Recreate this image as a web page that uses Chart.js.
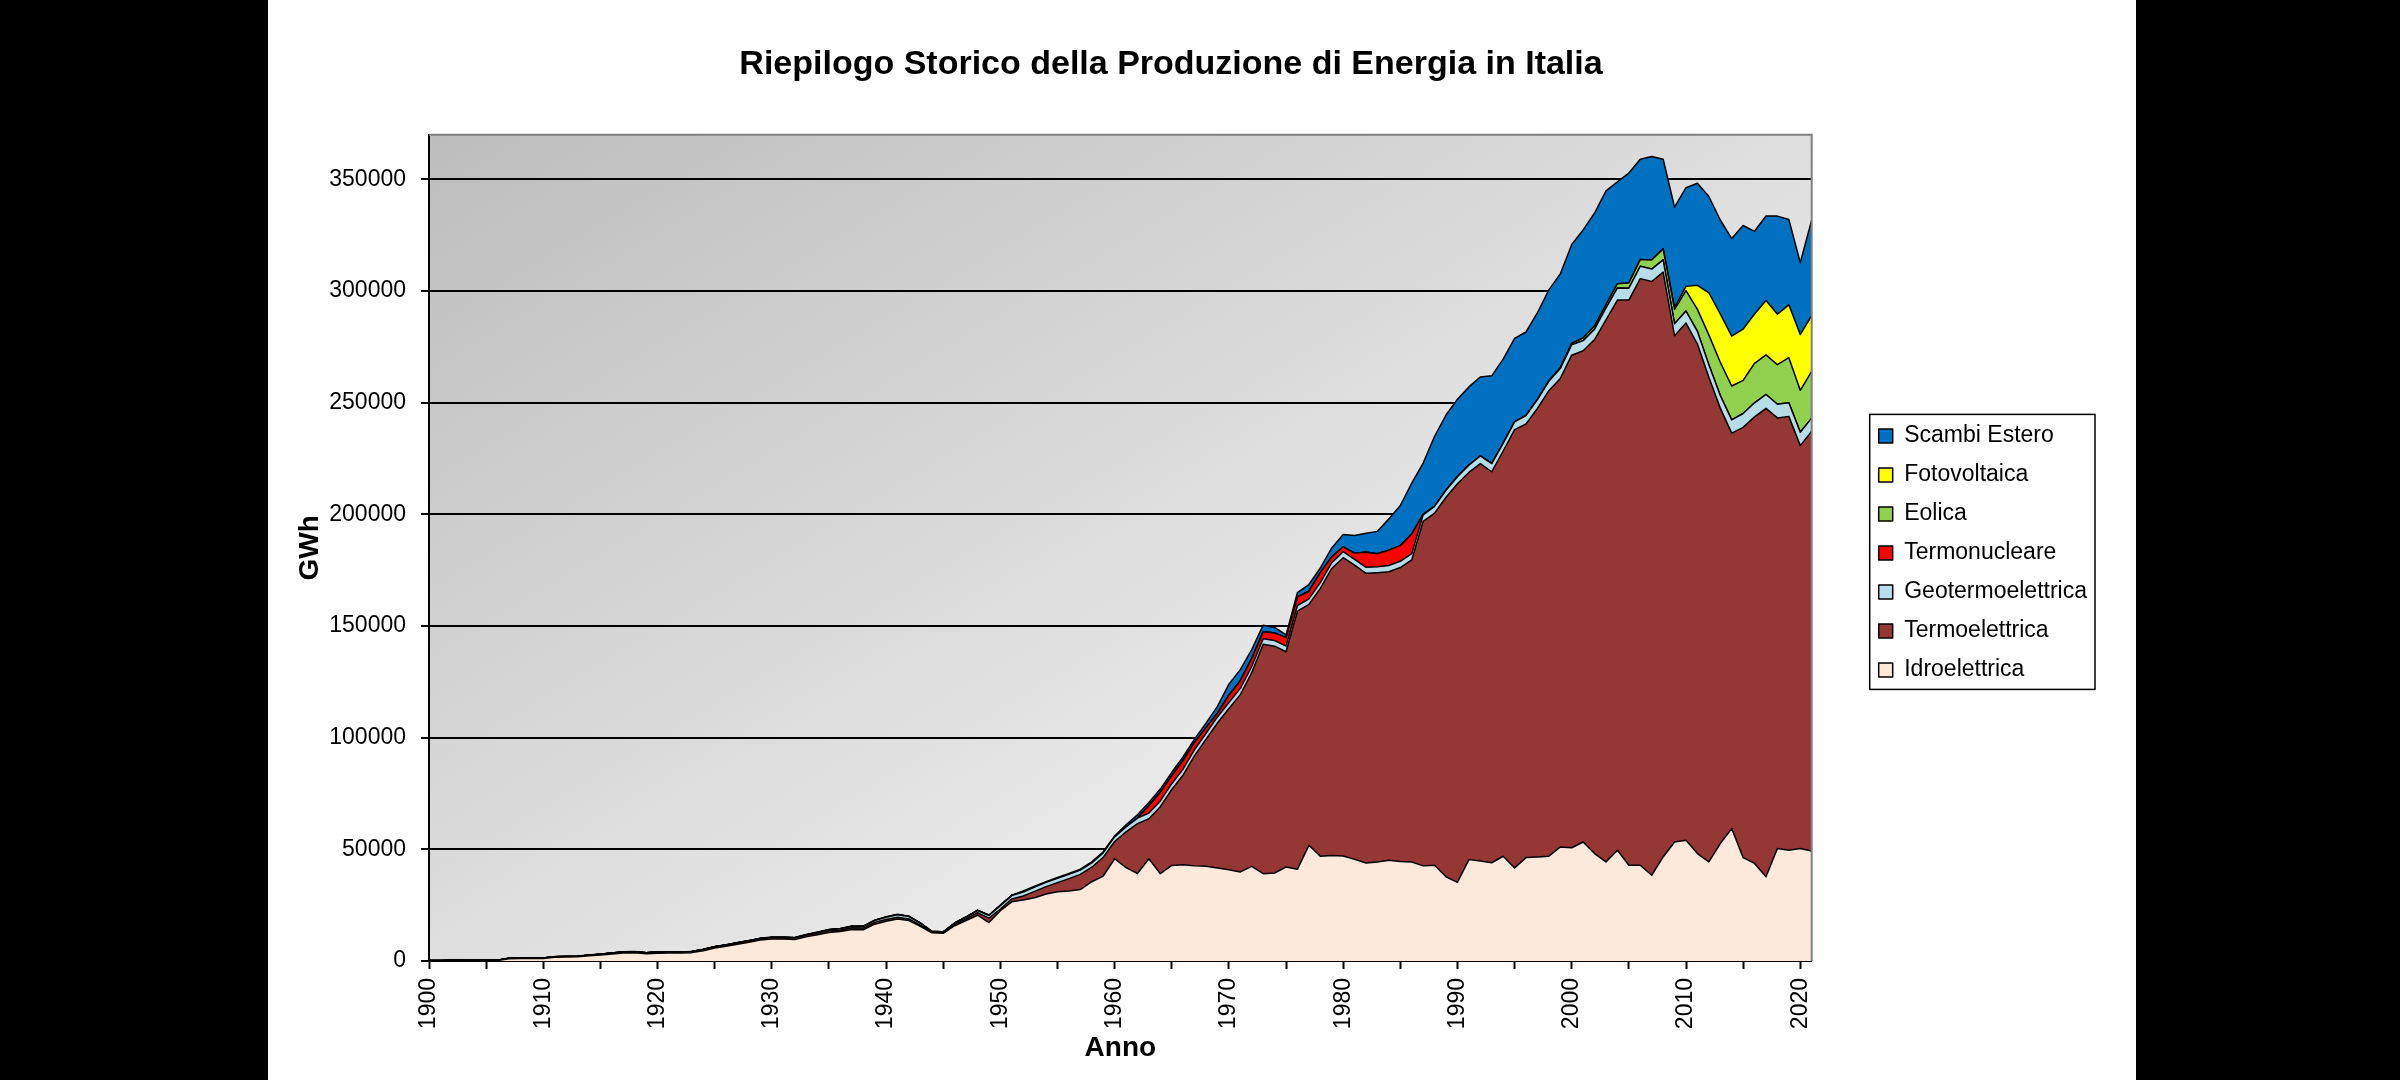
<!DOCTYPE html>
<html lang="it">
<head>
  <meta charset="UTF-8">
  <title>Riepilogo Storico della Produzione di Energia in Italia</title>
  <script src="https://cdn.jsdelivr.net/npm/chart.js"></script>
  <style>
    html, body { margin: 0; padding: 0; background: #000; }
    body { width: 2400px; height: 1080px; overflow: hidden; position: relative; }
    .foglio { position: absolute; left: 268px; top: 0; width: 1868px; height: 1080px; background: #fff; }
    .container { position: absolute; left: 245px; top: 0; width: 1891px; height: 1080px; }
  </style>
</head>
<body>
  <div class="foglio"></div>
  <div class="container">
    <canvas id="myChart"></canvas>
  </div>
  <script>
    // anni (categorie)
    const anni = [
      1900, 1901, 1902, 1903, 1904, 1905, 1906, 1907, 1908, 1909,
      1910, 1911, 1912, 1913, 1914, 1915, 1916, 1917, 1918, 1919,
      1920, 1921, 1922, 1923, 1924, 1925, 1926, 1927, 1928, 1929,
      1930, 1931, 1932, 1933, 1934, 1935, 1936, 1937, 1938, 1939,
      1940, 1941, 1942, 1943, 1944, 1945, 1946, 1947, 1948, 1949,
      1950, 1951, 1952, 1953, 1954, 1955, 1956, 1957, 1958, 1959,
      1960, 1961, 1962, 1963, 1964, 1965, 1966, 1967, 1968, 1969,
      1970, 1971, 1972, 1973, 1974, 1975, 1976, 1977, 1978, 1979,
      1980, 1981, 1982, 1983, 1984, 1985, 1986, 1987, 1988, 1989,
      1990, 1991, 1992, 1993, 1994, 1995, 1996, 1997, 1998, 1999,
      2000, 2001, 2002, 2003, 2004, 2005, 2006, 2007, 2008, 2009,
      2010, 2011, 2012, 2013, 2014, 2015, 2016, 2017, 2018, 2019,
      2020, 2021
    ];

    // tacche asse GWh
    const tickGWh = [0, 50000, 100000, 150000, 200000, 250000, 300000, 350000];

    // GWh
    const idroelettrica = [
      150, 160, 170, 180, 190, 200, 210, 1050, 1080, 1100,
      1120, 1700, 1800, 1900, 2300, 2700, 3100, 3550, 3650, 3250,
      3500, 3550, 3600, 3750, 4600, 5800, 6600, 7550, 8350, 9400,
      9800, 9800, 9650, 10800, 11800, 12800, 13200, 14100, 14000, 16500,
      17800, 18800, 18100, 15500, 12600, 12400, 15800, 18100, 20500, 17200,
      22500, 26500, 27300, 28300, 30000, 31000, 31400, 32000, 35500, 38000,
      45800, 41800, 39200, 45800, 39100, 42800, 43100, 42600, 42400, 41700,
      40900, 39900, 42400, 39100, 39400, 42100, 41100, 51800, 46900, 47300,
      47000, 45500, 43900, 44300, 45100, 44600, 44300, 42600, 42900, 37700,
      35200, 45400, 44800, 44000, 46900, 41700, 46300, 46600, 46900, 51100,
      50700, 53300, 48100, 44400, 49600, 42900, 42900, 38400, 46600, 53300,
      54100, 48100, 44400, 52600, 59300, 46300, 43700, 37700, 50400, 49600,
      50400, 49300
    ];

    const termoelettrica = [
      100, 100, 110, 110, 120, 120, 130, 200, 200, 200,
      200, 250, 250, 250, 300, 350, 400, 450, 450, 400,
      450, 450, 450, 450, 500, 500, 550, 550, 600, 600,
      650, 650, 650, 700, 700, 750, 700, 750, 750, 800,
      800, 800, 700, 600, 500, 400, 600, 700, 1100, 2000,
      800, 1300, 1800, 2900, 3300, 4100, 5500, 6800, 6500, 8400,
      7700, 16000, 22300, 17900, 30000, 34000, 40200, 49400, 56900, 64900,
      72200, 79400, 86800, 102700, 101600, 96400, 115600, 107900, 120000, 128500,
      133600, 131800, 129700, 129600, 129200, 131600, 135300, 154300, 157700, 170000,
      178500, 173400, 177900, 175100, 181500, 196300, 194200, 200900, 208500, 209800,
      220600, 220000, 230200, 242700, 246400, 253100, 262700, 265900, 261900, 226700,
      231600, 228200, 217000, 195000, 177100, 192700, 200000, 209800, 192800, 194300,
      180400, 187900
    ];

    const geotermoelettrica = [
      0, 0, 0, 0, 0, 0, 0, 0, 0, 0,
      0, 0, 0, 10, 20, 30, 40, 50, 50, 50,
      50, 50, 50, 50, 60, 60, 70, 70, 80, 80,
      100, 100, 120, 200, 300, 400, 500, 600, 700, 800,
      1000, 1100, 1100, 800, 100, 100, 500, 800, 1000, 1200,
      1500, 1500, 1800, 1900, 1900, 1900, 1900, 1900, 1900, 2000,
      2100, 2200, 2500, 2600, 2600, 2600, 2700, 2700, 2700, 2700,
      2700, 2800, 2700, 2500, 2500, 2500, 2500, 2500, 2600, 2600,
      2700, 2600, 2700, 2700, 2800, 2800, 2800, 2900, 3000, 3100,
      3200, 3200, 3460, 3670, 3420, 3440, 3760, 3900, 4210, 4400,
      4710, 4510, 4660, 5340, 5440, 5320, 5530, 5570, 5520, 5340,
      5380, 5650, 5590, 5660, 5920, 6190, 6290, 6200, 6110, 6080,
      6030, 5910
    ];

    const termonucleare = [
      0, 0, 0, 0, 0, 0, 0, 0, 0, 0,
      0, 0, 0, 0, 0, 0, 0, 0, 0, 0,
      0, 0, 0, 0, 0, 0, 0, 0, 0, 0,
      0, 0, 0, 0, 0, 0, 0, 0, 0, 0,
      0, 0, 0, 0, 0, 0, 0, 0, 0, 0,
      0, 0, 0, 0, 0, 0, 0, 0, 0, 0,
      0, 0, 0, 3200, 3900, 3500, 3900, 3200, 2500, 1700,
      3200, 3400, 3600, 3100, 3400, 3800, 3800, 3400, 4400, 2600,
      2200, 2700, 6800, 5800, 6900, 7000, 8800, 200, 0, 0,
      0, 0, 0, 0, 0, 0, 0, 0, 0, 0,
      0, 0, 0, 0, 0, 0, 0, 0, 0, 0,
      0, 0, 0, 0, 0, 0, 0, 0, 0, 0,
      0, 0
    ];

    const eolica = [
      0, 0, 0, 0, 0, 0, 0, 0, 0, 0,
      0, 0, 0, 0, 0, 0, 0, 0, 0, 0,
      0, 0, 0, 0, 0, 0, 0, 0, 0, 0,
      0, 0, 0, 0, 0, 0, 0, 0, 0, 0,
      0, 0, 0, 0, 0, 0, 0, 0, 0, 0,
      0, 0, 0, 0, 0, 0, 0, 0, 0, 0,
      0, 0, 0, 0, 0, 0, 0, 0, 0, 0,
      0, 0, 0, 0, 0, 0, 0, 0, 0, 0,
      0, 0, 0, 0, 0, 0, 0, 0, 0, 0,
      0, 0, 0, 0, 0, 10, 30, 120, 230, 400,
      560, 1180, 1400, 1460, 1850, 2340, 2970, 4030, 4860, 6540,
      9130, 9860, 13410, 14900, 15180, 14840, 17690, 17740, 17720, 20200,
      18760, 20930
    ];

    const fotovoltaica = [
      0, 0, 0, 0, 0, 0, 0, 0, 0, 0,
      0, 0, 0, 0, 0, 0, 0, 0, 0, 0,
      0, 0, 0, 0, 0, 0, 0, 0, 0, 0,
      0, 0, 0, 0, 0, 0, 0, 0, 0, 0,
      0, 0, 0, 0, 0, 0, 0, 0, 0, 0,
      0, 0, 0, 0, 0, 0, 0, 0, 0, 0,
      0, 0, 0, 0, 0, 0, 0, 0, 0, 0,
      0, 0, 0, 0, 0, 0, 0, 0, 0, 0,
      0, 0, 0, 0, 0, 0, 0, 0, 0, 0,
      0, 0, 0, 0, 0, 0, 0, 0, 0, 0,
      0, 0, 0, 0, 0, 0, 0, 40, 190, 680,
      1910, 10800, 18860, 21590, 22310, 22940, 22100, 24380, 22650, 23690,
      24940, 25040
    ];

    const scambiEstero = [
      0, 0, 0, 0, 0, 0, 0, 20, 20, 20,
      20, 30, 30, 30, 30, 50, 50, 50, 50, 50,
      50, 50, 50, 50, 60, 90, 100, 100, 100, 120,
      150, 150, 150, 200, 200, 200, 200, 200, 200, 200,
      200, 200, 200, 200, 200, 200, 200, 200, 200, 200,
      200, 200, 500, 400, 300, 400, 400, 400, 500, 500,
      400, 1000, 1500, 1500, 1400, 1600, 1600, 1600, 2000, 3000,
      5000, 5000, 4000, 3000, 2500, 1200, 2000, 3000, 2100, 4000,
      5500, 8000, 8500, 10000, 14000, 18000, 22800, 23000, 31400, 33700,
      34700, 35100, 35400, 39300, 37700, 37400, 37400, 38800, 40700, 42000,
      44300, 48400, 50600, 50970, 45600, 49200, 44980, 46300, 40000, 45000,
      44200, 45700, 43100, 42100, 43700, 46400, 37000, 37800, 43900, 38200,
      32200, 42800
    ];

    // dal basso verso l'alto
    const serie = [
      { label: 'Idroelettrica', data: idroelettrica, colore: '#fde9d9' },
      { label: 'Termoelettrica', data: termoelettrica, colore: '#953735' },
      { label: 'Geotermoelettrica', data: geotermoelettrica, colore: '#b7dee8' },
      { label: 'Termonucleare', data: termonucleare, colore: '#ff0000' },
      { label: 'Eolica', data: eolica, colore: '#92d050' },
      { label: 'Fotovoltaica', data: fotovoltaica, colore: '#ffff00' },
      { label: 'Scambi Estero', data: scambiEstero, colore: '#0070c0' }
    ];

    Chart.defaults.font.family = "'Liberation Sans', Arial, sans-serif";
    Chart.defaults.color = '#000';

    // sfondo sfumato, cornice area grafico e cornice legenda
    const cornici = {
      id: 'cornici',
      beforeDraw(chart) {
        const { ctx, chartArea: a } = chart;
        const w = a.right - a.left, h = a.bottom - a.top;
        const cx = a.left + w / 2, cy = a.top + h / 2;
        const k = (w * h) / (w * w + h * h);
        const g = ctx.createLinearGradient(cx - h * k, cy - w * k, cx + h * k, cy + w * k);
        g.addColorStop(0, '#bdbdbd');
        g.addColorStop(1, '#ffffff');
        ctx.save();
        ctx.fillStyle = g;
        ctx.fillRect(a.left, a.top, w, h);
        ctx.restore();
      },
      afterDatasetsDraw(chart) {
        const { ctx, chartArea: a } = chart;
        ctx.save();
        ctx.strokeStyle = '#808080';
        ctx.lineWidth = 2;
        ctx.beginPath();
        ctx.moveTo(a.left, a.top);
        ctx.lineTo(a.right, a.top);
        ctx.lineTo(a.right, a.bottom);
        ctx.stroke();
        ctx.restore();
      },
      afterDraw(chart) {
        const boxes = chart.legend && chart.legend.legendHitBoxes;
        if (!boxes || !boxes.length) return;
        const ctx = chart.ctx;
        const x0 = Math.min(...boxes.map(b => b.left)) - 9;
        const x1 = Math.max(...boxes.map(b => b.left + b.width)) + 8;
        const y0 = boxes[0].top - 10;
        const last = boxes[boxes.length - 1];
        const y1 = last.top + last.height + 8;
        ctx.save();
        ctx.strokeStyle = '#000';
        ctx.lineWidth = 1.5;
        ctx.strokeRect(x0, y0, x1 - x0, y1 - y0);
        ctx.restore();
      }
    };

    const ctx = document.getElementById('myChart').getContext('2d');
    const myChart = new Chart(ctx, {
      type: 'line',
      data: {
        labels: anni.map(String),
        datasets: serie.map((s, i) => ({
          label: s.label,
          data: s.data,
          yAxisID: 'y',
          backgroundColor: s.colore,
          borderColor: '#000',
          borderWidth: 1.5,
          borderJoinStyle: 'round',
          fill: i === 0 ? 'origin' : '-1',
          pointRadius: 0,
          tension: 0
        }))
      },
      options: {
        responsive: true,
        maintainAspectRatio: false,
        animation: false,
        layout: { padding: { left: 0, right: 39, top: 0, bottom: 0 } },
        scales: {
          x: {
            offset: false,
            grid: {
              display: true,
              drawOnChartArea: false,
              drawTicks: true,
              tickLength: 8,
              tickWidth: 2,
              tickColor: c => (anni[c.index] % 5 === 0 ? '#000' : 'rgba(0,0,0,0)')
            },
            border: { color: '#000', width: 2 },
            ticks: {
              autoSkip: false,
              minRotation: 90,
              maxRotation: 90,
              padding: 9,
              font: { size: 23 },
              callback: (v, i) => (anni[i] % 10 === 0 ? String(anni[i]) : '')
            },
            title: {
              display: true,
              text: 'Anno',
              font: { size: 28, weight: 'bold' },
              padding: { top: 0, bottom: 15 }
            },
            afterFit: s => { s.height = 119; }
          },
          y: {
            stacked: true,
            min: 0,
            max: 370000,
            grid: { color: '#000', lineWidth: 2, tickLength: 8, tickColor: '#000', tickWidth: 2 },
            border: { color: '#000', width: 2 },
            ticks: {
              padding: 15,
              font: { size: 23 },
              callback: v => String(v)
            },
            afterBuildTicks: s => { s.ticks = tickGWh.map(v => ({ value: v })); },
            title: {
              display: true,
              text: 'GWh',
              font: { size: 28, weight: 'bold' },
              padding: { top: 48, bottom: 0 }
            },
            afterFit: s => { s.width = 184; }
          },
          spazio: {
            type: 'linear',
            position: 'right',
            grid: { display: false },
            border: { display: false },
            ticks: { display: false },
            afterFit: s => { s.width = 51; }
          }
        },
        plugins: {
          title: {
            display: true,
            text: 'Riepilogo Storico della Produzione di Energia in Italia',
            font: { size: 34, weight: 'bold' },
            color: '#000',
            padding: { top: 44, bottom: 50 }
          },
          legend: {
            position: 'right',
            fullSize: false,
            reverse: true,
            title: { display: true, text: '', font: { size: 5 }, padding: 2 },
            labels: {
              boxWidth: 14,
              boxHeight: 14,
              padding: 16,
              color: '#000',
              font: { size: 23 }
            }
          },
          tooltip: { enabled: false }
        }
      },
      plugins: [cornici]
    });
  </script>
</body>
</html>
